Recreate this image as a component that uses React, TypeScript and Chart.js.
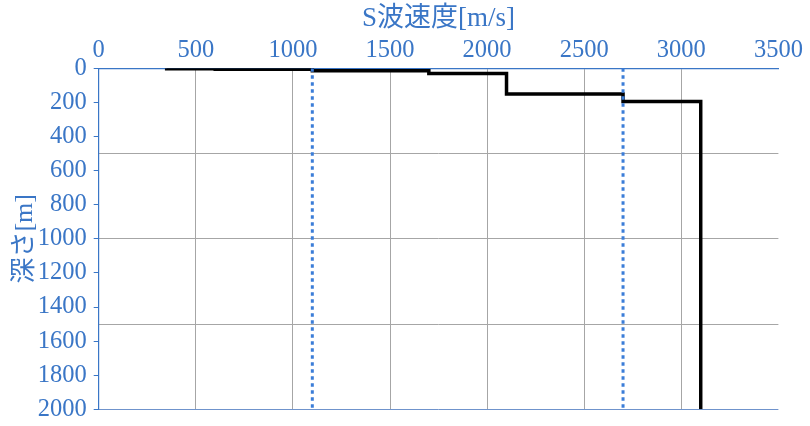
import React, { useEffect, useRef } from "react";
import { Chart, registerables } from "chart.js";

Chart.register(...registerables);

// Layer S-wave velocities [m/s] and top depths [m]
const layerVelocities = [350, 600, 1100, 1700, 2100, 2700, 3100];
const layerTops = [0, 2, 6, 15, 30, 150, 195];
const bottomDepth = 2000;

// Dotted reference velocities [m/s]
const referenceVelocities = [1100, 2700];

const xTitle = "S波速度[m/s]";
const yTitle = "深さ[m]";

const BLUE = "#3a76c6";
const GRID = "#a6a6a6";
const FONT = "'Liberation Serif', 'Times New Roman', 'Noto Sans CJK JP', serif";

function buildProfile() {
  const pts: { x: number; y: number }[] = [];
  for (let i = 0; i < layerVelocities.length; i++) {
    const v = layerVelocities[i];
    const top = layerTops[i];
    const bot = i + 1 < layerTops.length ? layerTops[i + 1] : bottomDepth;
    pts.push({ x: v, y: top });
    pts.push({ x: v, y: bot });
  }
  return pts;
}

const noPad = (s: any) => {
  s.paddingTop = 0;
  s.paddingBottom = 0;
  s.paddingLeft = 0;
  s.paddingRight = 0;
};

export default function App() {
  const ref = useRef<HTMLCanvasElement | null>(null);

  useEffect(() => {
    if (!ref.current) return;
    const refSets = referenceVelocities.map((v) => ({
      data: [
        { x: v, y: 0 },
        { x: v, y: bottomDepth },
      ],
      showLine: true,
      borderColor: "#3b7dd8",
      borderWidth: 3,
      borderDash: [3.5, 3.5],
      pointRadius: 0,
      order: 0,
    }));
    const chart = new Chart(ref.current, {
      type: "scatter",
      data: {
        datasets: [
          {
            data: buildProfile(),
            showLine: true,
            borderColor: "#000000",
            borderWidth: 3.5,
            pointRadius: 0,
            tension: 0,
            order: 1,
          },
          ...refSets,
        ] as any,
      },
      options: {
        animation: false,
        responsive: false,
        layout: { padding: { left: 0, top: 0, right: 31.6, bottom: 16.7 } },
        plugins: { legend: { display: false }, tooltip: { enabled: false } },
        scales: {
          x: {
            type: "linear",
            position: "top",
            min: 0,
            max: 3500,
            ticks: {
              stepSize: 500,
              color: BLUE,
              font: { family: FONT, size: 24.5 },
              padding: 3,
              maxRotation: 0,
              callback: (v: any) => String(v),
            },
            grid: {
              color: (ctx: any) =>
                ctx.tick && (ctx.tick.value === 3500 || ctx.tick.value === 0)
                  ? "rgba(0,0,0,0)"
                  : GRID,
              drawTicks: false,
            },
            border: { color: BLUE, width: 1.2 },
            title: {
              display: true,
              text: xTitle,
              color: BLUE,
              font: { family: FONT, size: 27 },
              padding: { top: 3, bottom: 0 },
            },
            afterFit: (s: any) => {
              s.height = 68.3;
              noPad(s);
            },
          },
          y: {
            type: "linear",
            position: "left",
            reverse: true,
            min: 0,
            max: 2000,
            ticks: {
              stepSize: 200,
              color: BLUE,
              font: { family: FONT, size: 24.5 },
              padding: 7,
              callback: (v: any) => String(v),
            },
            grid: {
              drawOnChartArea: false,
              tickLength: 5,
              tickColor: BLUE,
            },
            border: { color: BLUE, width: 1.2 },
            title: {
              display: true,
              text: yTitle,
              color: BLUE,
              font: { family: FONT, size: 26 },
              padding: { top: 10, bottom: 0 },
            },
            afterFit: (s: any) => {
              s.width = 98.7;
              noPad(s);
            },
          },
          y2: {
            type: "linear",
            position: "left",
            reverse: true,
            min: 0,
            max: 2000,
            ticks: { display: false, stepSize: 500 },
            grid: {
              color: (ctx: any) =>
                ctx.tick && ctx.tick.value === 2000
                  ? "#6f93cc"
                  : ctx.tick && ctx.tick.value === 0
                  ? "rgba(0,0,0,0)"
                  : GRID,
              drawTicks: false,
            },
            border: { display: false },
            afterFit: (s: any) => {
              s.width = 0;
              noPad(s);
            },
          },
        },
      } as any,
    });
    return () => chart.destroy();
  }, []);

  return (
    <div style={{ position: "absolute", left: 0, top: 0, width: 810, height: 426, background: "#fff" }}>
      <canvas ref={ref} width={810} height={426} />
    </div>
  );
}
